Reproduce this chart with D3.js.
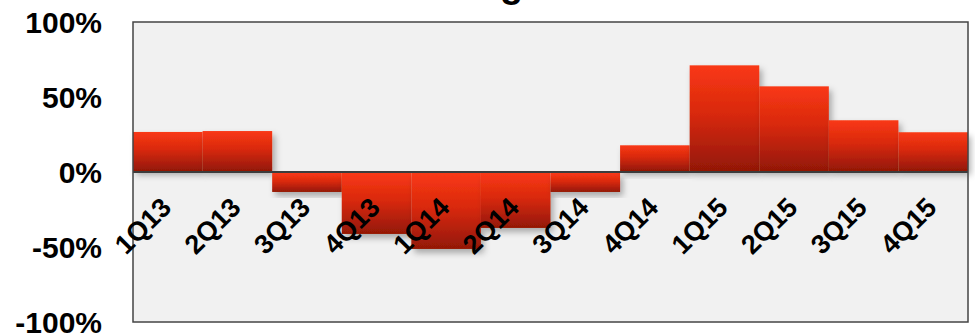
<!DOCTYPE html>
<html>
<head>
<meta charset="utf-8">
<script src="https://cdn.jsdelivr.net/npm/d3@7"></script>
<style>
  html, body { margin: 0; padding: 0; background: #fff; }
  svg { display: block; font-family: "Liberation Sans", Arial, sans-serif; font-weight: bold; }
</style>
</head>
<body>
<svg id="chart" width="975" height="335"></svg>
<script>
(() => {
  const title = 'Revenue Change';
  const quarters = ['1Q13', '2Q13', '3Q13', '4Q13', '1Q14', '2Q14', '3Q14', '4Q14', '1Q15', '2Q15', '3Q15', '4Q15'];
  const change = [0.267, 0.273, -0.133, -0.413, -0.513, -0.373, -0.133, 0.178, 0.711, 0.571, 0.345, 0.265];
  const yTicks = [-1, -0.5, 0, 0.5, 1];

  const W = 975, H = 335;
  const margin = { top: 22, right: 7, bottom: 13, left: 133 };
  const w = W - margin.left - margin.right;
  const h = H - margin.top - margin.bottom;

  const svg = d3.select('#chart');
  const defs = svg.append('defs');

  const grad = defs.append('linearGradient')
    .attr('id', 'barFill')
    .attr('x1', 0).attr('y1', 0).attr('x2', 0).attr('y2', 1);
  grad.append('stop').attr('offset', '0%').attr('stop-color', '#f93816');
  grad.append('stop').attr('offset', '45%').attr('stop-color', '#d9290c');
  grad.append('stop').attr('offset', '100%').attr('stop-color', '#931806');

  const shadow = defs.append('filter')
    .attr('id', 'shadow')
    .attr('x', '-20%').attr('y', '-20%').attr('width', '150%').attr('height', '150%');
  shadow.append('feDropShadow')
    .attr('dx', 3).attr('dy', 4).attr('stdDeviation', 3)
    .attr('flood-color', '#000').attr('flood-opacity', 0.3);

  // title sits mostly above the picture, only the g tail shows
  const t = svg.append('text')
    .attr('y', -3)
    .attr('font-size', 38)
    .attr('fill', '#000')
    .text(title);
  const gi = title.indexOf('g');
  const gx = t.node().getStartPositionOfChar(gi).x;
  t.attr('x', 500 - gx);

  const g = svg.append('g').attr('transform', `translate(${margin.left},${margin.top})`);

  const x = d3.scaleBand().domain(quarters).range([0, w]).padding(0);
  const y = d3.scaleLinear().domain([-1, 1]).range([h, 0]);

  g.append('rect')
    .attr('width', w).attr('height', h)
    .attr('fill', '#f1f1f1');

  g.append('g')
    .selectAll('rect')
    .data(change)
    .join('rect')
    .attr('x', (d, i) => x(quarters[i]))
    .attr('width', x.bandwidth())
    .attr('y', d => d >= 0 ? y(d) : y(0) + 1)
    .attr('height', d => d >= 0 ? y(0) - y(d) - 1 : y(d) - y(0) - 1)
    .attr('fill', 'url(#barFill)')
    .attr('filter', 'url(#shadow)');

  g.append('line')
    .attr('x1', 0).attr('x2', w)
    .attr('y1', y(0)).attr('y2', y(0))
    .attr('stroke', '#3c3c3c')
    .attr('stroke-width', 2);

  g.append('rect')
    .attr('width', w).attr('height', h)
    .attr('fill', 'none')
    .attr('stroke', '#444')
    .attr('stroke-width', 1.5);

  const pct = d => d3.format('.0%')(d).replace('\u2212', '-');

  const yAxis = g.append('g')
    .call(d3.axisLeft(y).tickValues(yTicks).tickFormat(pct).tickSize(0).tickPadding(31));
  yAxis.select('.domain').remove();
  yAxis.selectAll('text')
    .attr('font-size', 30)
    .attr('font-family', '"Liberation Sans", Arial, sans-serif')
    .attr('font-weight', 'bold')
    .attr('fill', '#000')
    .attr('dy', '0.36em');

  const xAxis = g.append('g')
    .attr('transform', `translate(0,${y(0)})`)
    .call(d3.axisBottom(x).tickSize(0));
  xAxis.select('.domain').remove();
  xAxis.selectAll('text')
    .attr('font-size', 27)
    .attr('font-family', '"Liberation Sans", Arial, sans-serif')
    .attr('font-weight', 'bold')
    .attr('fill', '#000')
    .attr('text-anchor', 'end')
    .attr('y', 0)
    .attr('dy', 0)
    .attr('transform', 'translate(5,37) rotate(-45)');
})();
</script>
</body>
</html>
